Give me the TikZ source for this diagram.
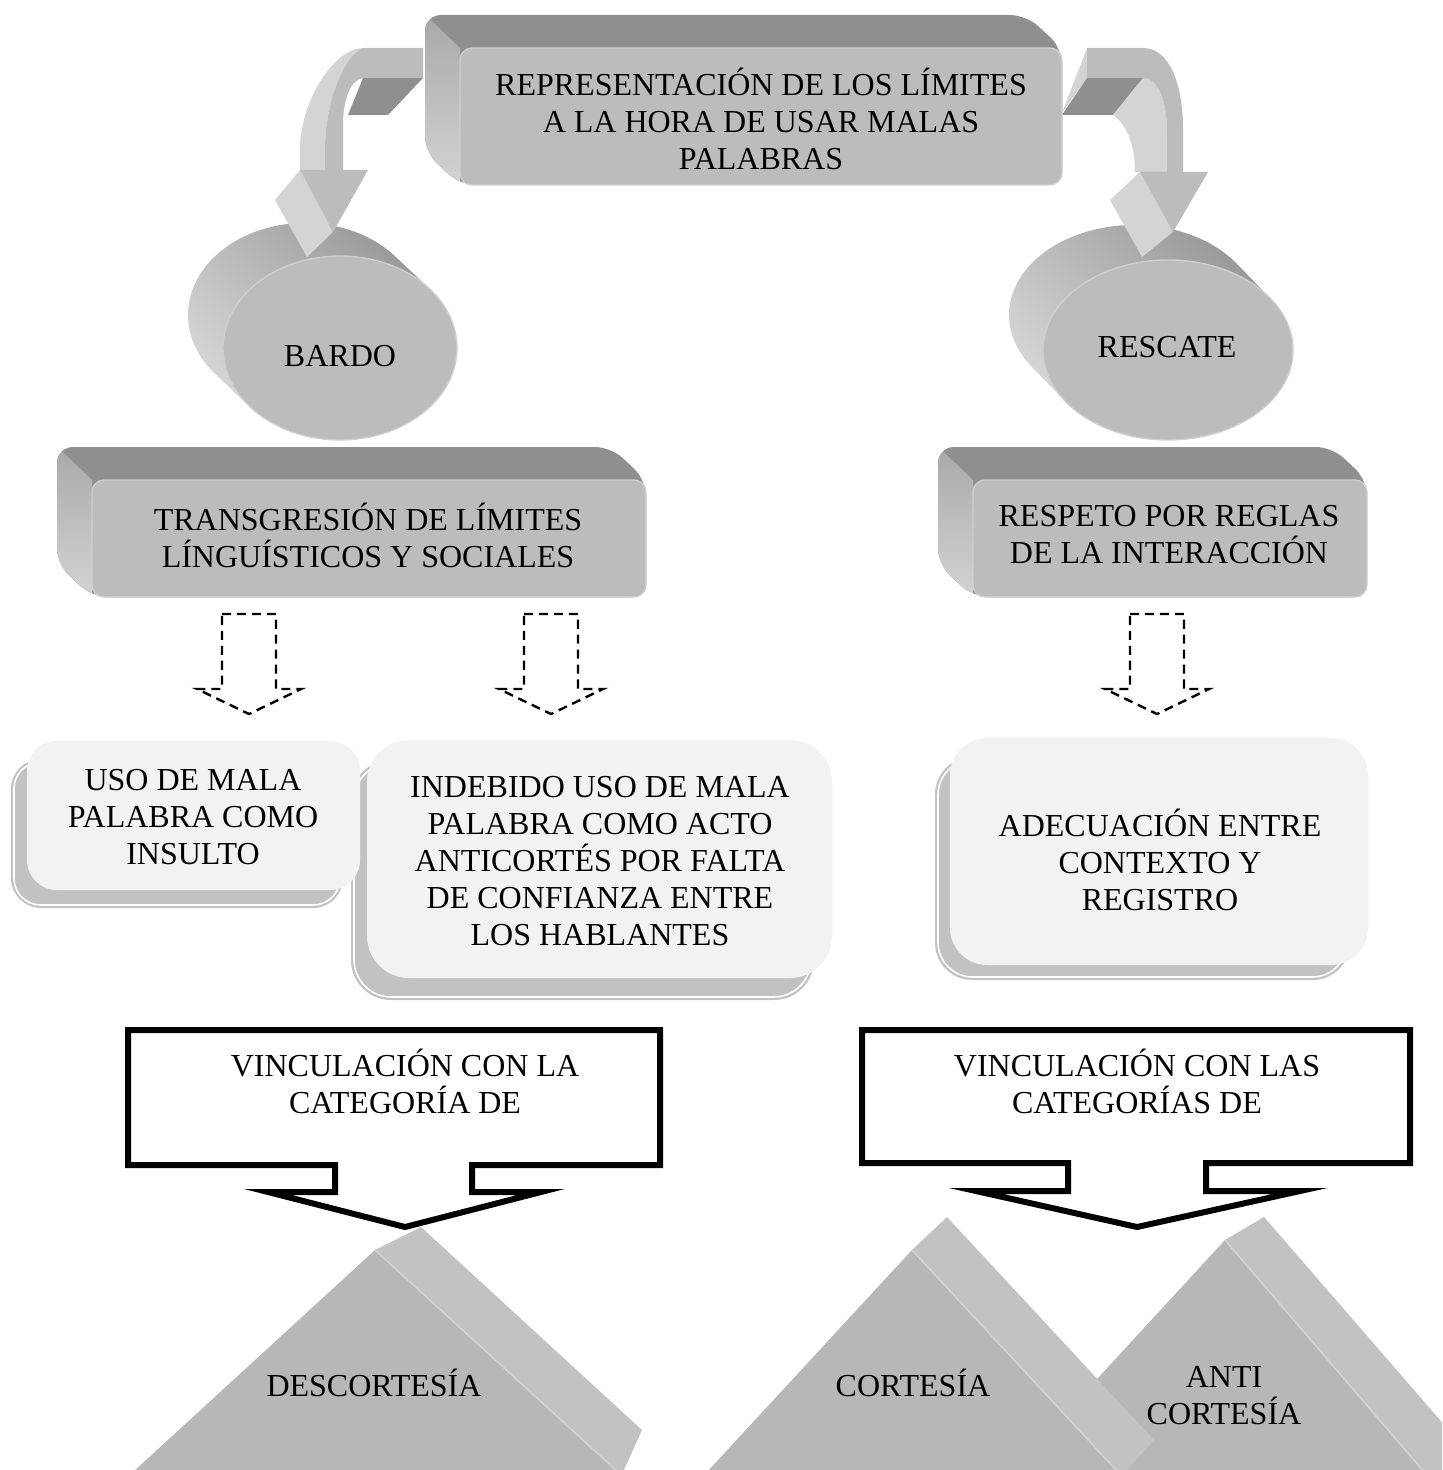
\documentclass[tikz,border=0pt]{standalone}
\usepackage{fontspec}
\setmainfont{Liberation Serif}
\definecolor{frontg}{HTML}{BCBCBC}
\definecolor{darkg}{HTML}{8F8F8F}
\definecolor{lightg}{HTML}{D4D4D4}
\definecolor{midg}{HTML}{A6A6A6}
\definecolor{rimg}{HTML}{CFCFCF}
\definecolor{paleg}{HTML}{F2F2F2}
\definecolor{shadg}{HTML}{C2C2C2}
\definecolor{pyrf}{HTML}{B7B7B7}
\definecolor{pyrb}{HTML}{C2C2C2}
\definecolor{pyrl}{HTML}{D3D3D3}
\definecolor{cyld}{HTML}{969696}
\definecolor{cyll}{HTML}{D9D9D9}
\begin{document}
\begin{tikzpicture}[x=0.375pt,y=-0.375pt,
  txt/.style={font=\fontsize{12}{13.875}\selectfont, align=center, inner sep=0pt},
  frontface/.style={fill=frontg, draw=rimg, line width=0.5pt},
  topface/.style={fill=darkg},
  sideface/.style={top color=midg, bottom color=lightg},
  cylside/.style={top color=cyld, bottom color=cyll, shading angle=-45},
  lightface/.style={fill=lightg},
  arrfront/.style={fill=frontg},
  shadowbox/.style={fill=shadg},
  shadowrim/.style={draw=white, line width=0.6pt},
  palebox/.style={fill=paleg},
  dasharr/.style={draw=black, line width=0.9pt, dash pattern=on 3.4pt off 2.2pt, line join=miter},
  blockarr/.style={draw=black, line width=2.25pt, fill=white, line join=miter},
  pyrfront/.style={fill=pyrf},
  pyrback/.style={fill=pyrb},
  pyrline/.style={draw=pyrl, line width=0.6pt}
]
\useasboundingbox (0,0) rectangle (1442,1470);
\begin{scope}
\clip (0,0) rectangle (1442,1470);

% ---- cylinders
\shade[cylside] plot[domain=140.2:320.2,samples=60] ({305+117*cos(\x)},{315+92*sin(\x)}) -- plot[domain=-39.8:140.2,samples=60] ({340+117*cos(\x)},{348+92*sin(\x)}) -- cycle;
\path[frontface] (340,348) ellipse [x radius=43.875pt, y radius=34.5pt];
\shade[cylside] plot[domain=145:325,samples=60] ({1134+125*cos(\x)},{315+90*sin(\x)}) -- plot[domain=-35:145,samples=60] ({1168+125*cos(\x)},{350+90*sin(\x)}) -- cycle;
\path[frontface] (1168,350) ellipse [x radius=46.875pt, y radius=33.75pt];

% ---- left curved arrow
\fill[darkg] (363,78) -- (423,78) -- (388,115) -- (348,115) -- cycle;
\fill[lightface] (363,48) .. controls (335,48) and (300,100) .. (300,150) -- (300,172) -- (325,172) -- (325,150) .. controls (325,100) and (345,55) .. (363,48) -- cycle;
\fill[arrfront] (423,48) -- (363,48) .. controls (345,55) and (325,100) .. (325,150) -- (325,172) -- (343,172) -- (343,125) .. controls (343,100) and (350,80) .. (363,78) -- (423,78) -- cycle;
\fill[lightface] (300,170) -- (275,200) -- (307,257) -- (333,232) -- cycle;
\fill[arrfront] (300,170) -- (368,170) -- (333,232) -- cycle;

% ---- right curved arrow
\fill[lightface] (1062,113) -- (1087,48) -- (1087,78) -- cycle;
\fill[darkg] (1062,115) -- (1087,78) -- (1143,78) -- (1113,115) -- cycle;
\fill[lightface] (1113,115) .. controls (1127,125) and (1135,145) .. (1135,172) -- (1167,172) -- (1167,133) .. controls (1167,100) and (1158,78) .. (1143,78) -- cycle;
\fill[arrfront] (1087,48) -- (1143,48) .. controls (1170,48) and (1183,85) .. (1183,130) -- (1183,172) -- (1167,172) -- (1167,133) .. controls (1167,100) and (1158,78) .. (1143,78) -- (1087,78) -- cycle;
\fill[lightface] (1140,172) -- (1110,200) -- (1142,257) -- (1173,232) -- cycle;
\fill[arrfront] (1140,172) -- (1208,172) -- (1173,232) -- cycle;

% ---- top 3D box
\fill[topface, rounded corners=6pt] (425,15) -- (1026,15) -- (1062,48) -- (1062,185) -- (460,185) -- (425,152) -- cycle;
\begin{scope}
\clip[rounded corners=6pt] (425,15) -- (1026,15) -- (1062,48) -- (1062,185) -- (460,185) -- (425,152) -- cycle;
\shade[sideface] (415,5) -- (460,48) -- (460,190) -- (415,190) -- cycle;
\end{scope}
\path[frontface, rounded corners=4.5pt] (460,48) rectangle (1062,185);

% ---- second level 3D boxes
\fill[topface, rounded corners=6pt] (57,447) -- (611,447) -- (646,480) -- (646,597) -- (92,597) -- (57,564) -- cycle;
\begin{scope}
\clip[rounded corners=6pt] (57,447) -- (611,447) -- (646,480) -- (646,597) -- (92,597) -- (57,564) -- cycle;
\shade[sideface] (46,436) -- (92,480) -- (92,600) -- (46,600) -- cycle;
\end{scope}
\path[frontface, rounded corners=4.5pt] (92,480) rectangle (646,597);

\fill[topface, rounded corners=6pt] (938,447) -- (1332,447) -- (1367,480) -- (1367,597) -- (973,597) -- (938,564) -- cycle;
\begin{scope}
\clip[rounded corners=6pt] (938,447) -- (1332,447) -- (1367,480) -- (1367,597) -- (973,597) -- (938,564) -- cycle;
\shade[sideface] (927,436) -- (973,480) -- (973,600) -- (927,600) -- cycle;
\end{scope}
\path[frontface, rounded corners=4.5pt] (973,480) rectangle (1367,597);

% ---- dashed block arrows
\foreach \cx in {249,551,1157}{
  \draw[dasharr] ({\cx-27},614) -- ({\cx+27},614) -- ({\cx+27},689) -- ({\cx+52},689) -- (\cx,714) -- ({\cx-52},689) -- ({\cx-27},689) -- cycle;
}

% ---- rounded boxes with shadows
\fill[shadowbox, rounded corners=15pt] (351,760) rectangle (814,1000);
\draw[shadowrim, rounded corners=14pt] (354,763) rectangle (811,997);
\fill[shadowbox, rounded corners=11.25pt] (11,759) rectangle (343,908);
\draw[shadowrim, rounded corners=10pt] (14,762) rectangle (340,905);
\fill[palebox, rounded corners=11.25pt] (27,741) rectangle (360,890);
\fill[palebox, rounded corners=15.75pt] (367,740) rectangle (832,978);
\fill[shadowbox, rounded corners=14pt] (935,757) rectangle (1350,980);
\draw[shadowrim, rounded corners=13pt] (938,760) rectangle (1347,977);
\fill[palebox, rounded corners=14pt] (950,738) rectangle (1368,965);

% ---- outlined block arrows
\draw[blockarr] (128,1030) -- (660,1030) -- (660,1165) -- (472,1165) -- (472,1192) -- (541,1192) -- (405,1227) -- (268,1192) -- (335,1192) -- (335,1165) -- (128,1165) -- cycle;
\draw[blockarr] (862,1030) -- (1410,1030) -- (1410,1163) -- (1206,1163) -- (1206,1191) -- (1300,1191) -- (1137,1227) -- (976,1191) -- (1068,1191) -- (1068,1163) -- (862,1163) -- cycle;

% ---- pyramids
\fill[pyrback] (1225,1240) -- (1264,1217) -- (1492,1480) -- (1431,1480) -- cycle;
\fill[pyrfront] (1225,1240) -- (1431,1480) -- (1004,1480) -- cycle;
\draw[pyrline] (1225,1240) -- (1431,1480);

\fill[pyrback] (912,1250) -- (947,1217) -- (1154,1440) -- (1125,1472) -- (1116,1472) -- cycle;
\fill[pyrfront] (912,1250) -- (1118,1472) -- (707,1472) -- cycle;
\draw[pyrline] (912,1250) -- (1118,1472);

\fill[pyrback] (375,1250) -- (421,1227) -- (642,1430) -- (623,1472) -- (616,1472) -- cycle;
\fill[pyrfront] (375,1250) -- (618,1472) -- (133,1472) -- cycle;
\draw[pyrline] (375,1250) -- (618,1472);
\end{scope}

% ---- texts
\node[txt] (top) at (761,119) {REPRESENTACIÓN DE LOS LÍMITES\\A LA HORA DE USAR MALAS\\PALABRAS};
\node[txt] (bardo) at (340,356) {BARDO};
\node[txt] (rescate) at (1167,347) {RESCATE};
\node[txt] (trans) at (368,535) {TRANSGRESIÓN DE LÍMITES\\LÍNGUÍSTICOS Y SOCIALES};
\node[txt] (resp) at (1169,535) {RESPETO POR REGLAS\\DE LA INTERACCIÓN};
\node[txt] (uso) at (193,817) {USO DE MALA\\PALABRA COMO\\INSULTO};
\node[txt] (indeb) at (600,861) {INDEBIDO USO DE MALA\\PALABRA COMO ACTO\\ANTICORTÉS POR FALTA\\DE CONFIANZA ENTRE\\LOS HABLANTES};
\node[txt] (adec) at (1160,860) {ADECUACIÓN ENTRE\\CONTEXTO Y\\REGISTRO};
\node[txt] (vinc1) at (405,1081) {VINCULACIÓN CON LA\\CATEGORÍA DE};
\node[txt] (vinc2) at (1137,1081) {VINCULACIÓN CON LAS\\CATEGORÍAS DE};
\node[txt] (desc) at (374,1383) {DESCORTESÍA};
\node[txt] (cort) at (913,1383) {CORTESÍA};
\node[txt] (anti) at (1224,1396) {ANTI\\CORTESÍA};
\end{tikzpicture}
\end{document}
